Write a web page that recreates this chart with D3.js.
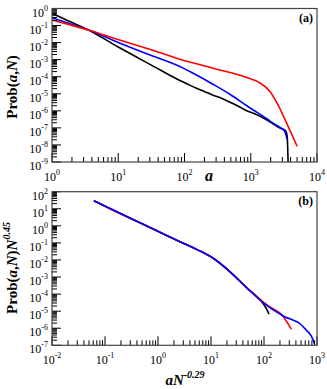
<!DOCTYPE html>
<html>
<head>
<meta charset="utf-8">
<script src="https://cdn.jsdelivr.net/npm/d3@7"></script>
<style>
  body { margin: 0; background: #fff; }
  svg { display: block; }
</style>
</head>
<body>
<svg width="327" height="389"></svg>
<script>
// panel (a): pairs of [log10 a, log10 Prob(a,N)]
const topBlack = [[0,-0.28],[0.25,-0.73],[0.55,-1.26],[1.0,-2.26],[1.5,-3.32],[1.93,-4.22],[2.05,-4.44],[2.18,-4.67],[2.3,-4.86],[2.43,-5.08],[2.55,-5.25],[2.69,-5.50],[2.8,-5.70],[2.94,-5.99],[3.05,-6.16],[3.19,-6.42],[3.27,-6.60],[3.34,-6.77],[3.44,-7.01],[3.49,-7.08],[3.53,-7.20],[3.55,-7.50],[3.565,-9.2]];
const topBlue  = [[0,-0.54],[0.25,-0.87],[0.55,-1.26],[1.0,-1.99],[1.5,-2.76],[1.93,-3.40],[2.18,-3.90],[2.43,-4.44],[2.69,-5.04],[2.94,-5.70],[3.05,-5.98],[3.19,-6.32],[3.29,-6.60],[3.36,-6.78],[3.44,-6.97],[3.51,-7.18],[3.55,-7.69]];
const topRed   = [[0,-0.67],[0.25,-0.93],[0.55,-1.26],[1.0,-1.82],[1.5,-2.42],[1.93,-2.97],[2.43,-3.50],[2.94,-4.05],[3.14,-4.37],[3.29,-4.86],[3.41,-5.64],[3.54,-6.71],[3.70,-8.08]];

// panel (b): pairs of [log10 aN^-0.29, log10 Prob(a,N)N^0.45]
const botBlack = [[-1.21,1.47],[-0.5,0.42],[0.0,-0.32],[0.415,-0.93],[0.729,-1.38],[1.042,-1.90],[1.355,-2.68],[1.669,-3.62],[1.95,-4.42],[2.0,-4.62],[2.05,-4.88],[2.094,-5.17]];
const botRed   = [[-1.21,1.47],[-0.9,0.98],[-0.5,0.40],[0.0,-0.33],[0.415,-0.93],[0.729,-1.38],[1.042,-1.90],[1.355,-2.68],[1.669,-3.60],[1.982,-4.45],[2.1,-4.72],[2.2,-4.92],[2.295,-5.10],[2.36,-5.30],[2.42,-5.58],[2.47,-5.82],[2.515,-6.06]];
const botBlue  = [[-1.21,1.47],[-0.5,0.42],[0.0,-0.32],[0.415,-0.93],[0.729,-1.38],[1.042,-1.90],[1.355,-2.68],[1.669,-3.62],[1.982,-4.50],[2.295,-5.16],[2.408,-5.36],[2.483,-5.44],[2.577,-5.56],[2.671,-5.71],[2.796,-6.10],[2.890,-6.45],[2.953,-6.92]];

// decade exponents of the tick labels
const topXTicks = [0, 1, 2, 3, 4];
const topYTicks = [0, -1, -2, -3, -4, -5, -6, -7, -8, -9];
const botXTicks = [-2, -1, 0, 1, 2, 3];
const botYTicks = [2, 1, 0, -1, -2, -3, -4, -5, -6, -7];

const svg = d3.select("svg");
const font = "'Liberation Serif', 'Times New Roman', serif";

function panel(o) {
  const x = d3.scaleLog().domain(o.xDomain).range([o.left, o.right]);
  const y = d3.scaleLog().domain(o.yDomain).range([o.bottom, o.top]);
  const g = svg.append("g");

  g.append("clipPath").attr("id", o.id)
    .append("rect")
    .attr("x", o.left).attr("y", o.top)
    .attr("width", o.right - o.left).attr("height", o.bottom - o.top);

  const line = d3.line()
    .x(d => x(Math.pow(10, d[0])))
    .y(d => y(Math.pow(10, d[1])))
    .curve(d3.curveMonotoneX);

  o.series.forEach(s => {
    g.append("path")
      .attr("clip-path", `url(#${o.id})`)
      .attr("d", line(s.data))
      .attr("fill", "none")
      .attr("stroke", s.color)
      .attr("stroke-width", 1.6)
      .attr("stroke-linejoin", "round");
  });

  const isMajor = v => Math.abs(Math.log10(v) - Math.round(Math.log10(v))) < 1e-6;

  // bottom ticks point inward
  g.append("g").selectAll("line")
    .data(x.ticks())
    .enter().append("line")
    .attr("x1", d => x(d)).attr("x2", d => x(d))
    .attr("y1", o.bottom).attr("y2", d => o.bottom - (isMajor(d) ? 9 : 5))
    .attr("stroke", "#000").attr("stroke-width", 1);

  // left ticks point inward
  g.append("g").selectAll("line")
    .data(y.ticks())
    .enter().append("line")
    .attr("y1", d => y(d)).attr("y2", d => y(d))
    .attr("x1", o.left).attr("x2", d => o.left + (isMajor(d) ? 9 : 5))
    .attr("stroke", "#000").attr("stroke-width", 1);

  g.append("rect")
    .attr("x", o.left).attr("y", o.top)
    .attr("width", o.right - o.left).attr("height", o.bottom - o.top)
    .attr("fill", "none").attr("stroke", "#444").attr("stroke-width", 1.2);

  // x tick labels
  const xl = g.append("g").selectAll("text")
    .data(o.xTicks)
    .enter().append("text")
    .attr("x", d => x(Math.pow(10, d)))
    .attr("y", o.bottom + 19)
    .attr("text-anchor", "middle")
    .attr("font-family", font).attr("font-size", 12);
  xl.append("tspan").text("10");
  xl.append("tspan").attr("dy", -6).attr("font-size", 8).text(d => d);

  // y tick labels
  const yl = g.append("g").selectAll("text")
    .data(o.yTicks)
    .enter().append("text")
    .attr("x", 48)
    .attr("y", d => y(Math.pow(10, d)) + 8)
    .attr("text-anchor", "end")
    .attr("font-family", font).attr("font-size", 12);
  yl.append("tspan").text("10");
  yl.append("tspan").attr("dy", -6).attr("font-size", 8).text(d => d);

  // panel tag
  g.append("text")
    .attr("x", o.right - 4).attr("y", o.top + 13)
    .attr("text-anchor", "end")
    .attr("font-family", font).attr("font-size", 12).attr("font-weight", "bold")
    .text(o.tag);

  return g;
}

panel({
  id: "clipA", tag: "(a)",
  left: 52, right: 317, top: 8.5, bottom: 162,
  xDomain: [1, 1e4], yDomain: [1e-9, 1],
  xTicks: topXTicks, yTicks: topYTicks,
  series: [
    { data: topBlack, color: "#000" },
    { data: topBlue, color: "#0000ff" },
    { data: topRed, color: "#ff0000" }
  ]
});

panel({
  id: "clipB", tag: "(b)",
  left: 52, right: 317, top: 191.7, bottom: 345.3,
  xDomain: [1e-2, 1e3], yDomain: [1e-7, 1e2],
  xTicks: botXTicks, yTicks: botYTicks,
  series: [
    { data: botBlack, color: "#000" },
    { data: botRed, color: "#ff0000" },
    { data: botBlue, color: "#0000ff" }
  ]
});

// axis titles
svg.append("text")
  .attr("x", 209).attr("y", 181)
  .attr("text-anchor", "middle")
  .attr("font-family", font).attr("font-size", 16)
  .attr("font-weight", "bold").attr("font-style", "italic")
  .text("a");

const bx = svg.append("text")
  .attr("x", 185).attr("y", 385)
  .attr("text-anchor", "middle")
  .attr("font-family", font).attr("font-size", 15)
  .attr("font-weight", "bold").attr("font-style", "italic");
bx.append("tspan").text("aN");
bx.append("tspan").attr("dy", -7).attr("font-size", 10).text("-0.29");

function probLabel(cy, withN) {
  const t = svg.append("text")
    .attr("transform", `translate(17,${cy}) rotate(-90)`)
    .attr("text-anchor", "middle")
    .attr("font-family", font).attr("font-size", 15)
    .attr("font-weight", "bold");
  t.append("tspan").text("Prob(");
  t.append("tspan").attr("font-style", "italic").text("a");
  t.append("tspan").text(",");
  t.append("tspan").attr("font-style", "italic").text("N");
  t.append("tspan").text(")");
  if (withN) {
    t.append("tspan").attr("font-style", "italic").text("N");
    t.append("tspan").attr("dy", -7).attr("font-size", 10).attr("font-style", "italic").text("0.45");
  }
}
probLabel(87, false);
probLabel(268, true);
</script>
</body>
</html>
